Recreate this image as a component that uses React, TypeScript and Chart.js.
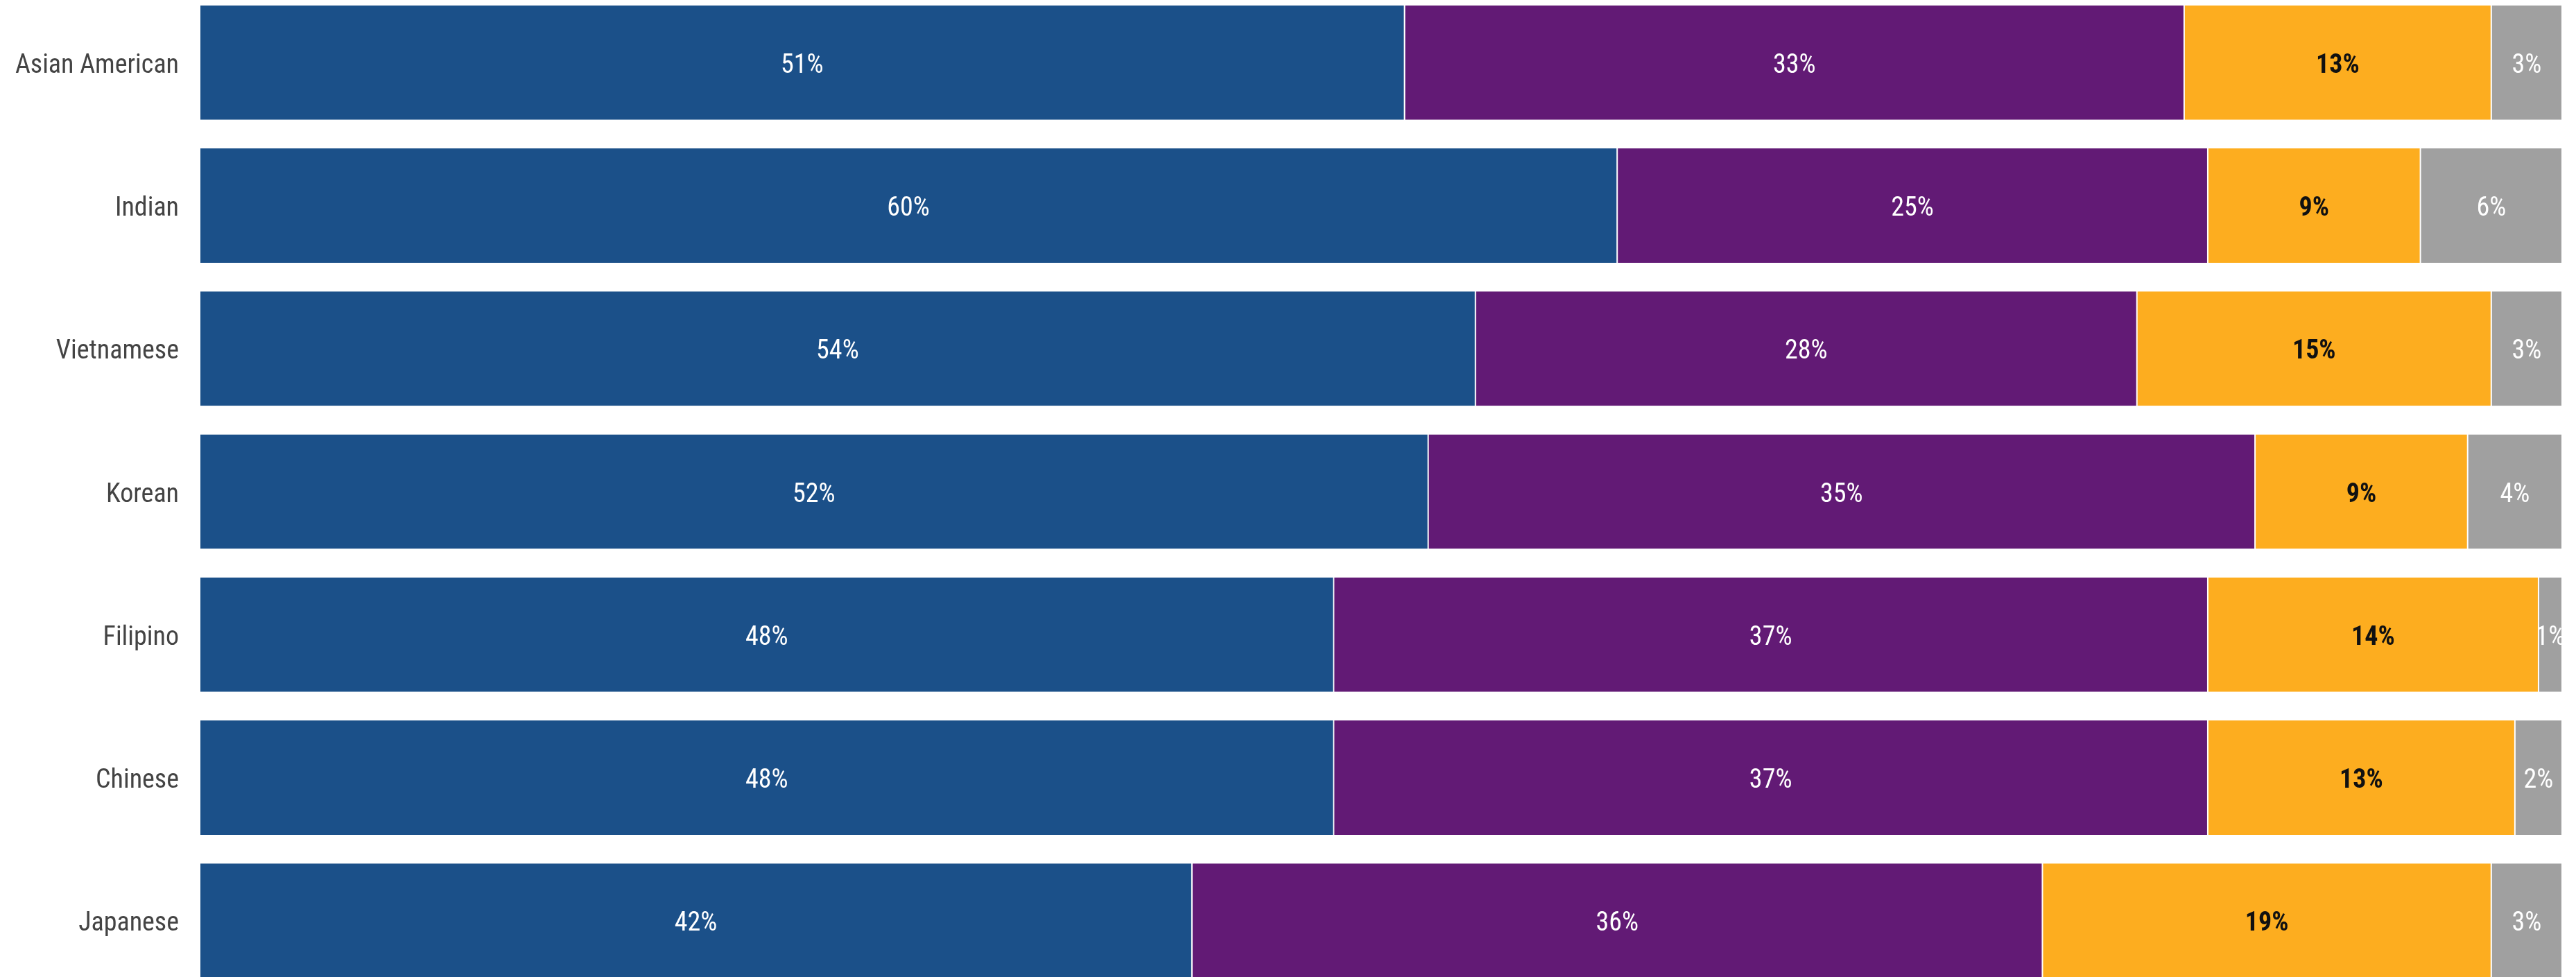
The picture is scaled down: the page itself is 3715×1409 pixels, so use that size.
import React, { useEffect, useRef } from "react";
import { Chart, registerables } from "chart.js";

Chart.register(...registerables);

const categories = ["Asian American", "Indian", "Vietnamese", "Korean", "Filipino", "Chinese", "Japanese"];
const seriesA = [51, 60, 54, 52, 48, 48, 42];
const seriesB = [33, 25, 28, 35, 37, 37, 36];
const seriesC = [13, 9, 15, 9, 14, 13, 19];
const seriesD = [3, 6, 3, 4, 1, 2, 3];
const seriesColors = ["#1B5089", "#621A75", "#FDAD1F", "#A0A0A0"];
const labelColors = ["#FFFFFF", "#FFFFFF", "#111111", "#FFFFFF"];
const labelWeights = ["normal", "normal", "bold", "normal"];

const FONT = '"Roboto Condensed", "Liberation Sans Narrow", "DejaVu Sans Condensed", Roboto, sans-serif';

const labelPlugin = {
  id: "segLabels",
  afterDatasetsDraw(chart: any) {
    const ctx = chart.ctx;
    chart.data.datasets.forEach((ds: any, di: number) => {
      const meta = chart.getDatasetMeta(di);
      meta.data.forEach((bar: any, i: number) => {
        const v = ds.data[i];
        const left = Math.min(bar.base, bar.x);
        const right = Math.max(bar.base, bar.x);
        const top = bar.y - bar.height / 2;
        ctx.save();
        ctx.beginPath();
        ctx.rect(left, top, right - left, bar.height);
        ctx.clip();
        ctx.fillStyle = labelColors[di];
        ctx.font = `${labelWeights[di]} 38px ${FONT}`;
        ctx.textAlign = "center";
        ctx.textBaseline = "middle";
        ctx.fillText(v + "%", (left + right) / 2, bar.y + 5);
        ctx.restore();
      });
    });
  },
};

export default function App() {
  const ref = useRef<HTMLCanvasElement>(null);
  useEffect(() => {
    document.body.style.margin = "0";
    const chart = new Chart(ref.current!, {
      type: "bar",
      data: {
        labels: categories,
        datasets: [seriesA, seriesB, seriesC, seriesD].map((d, i) => ({
          label: "s" + i,
          data: d,
          backgroundColor: seriesColors[i],
          borderColor: "#FFFFFF",
          borderWidth: { left: 1, right: 1, top: 0, bottom: 0 },
          borderSkipped: false,
          barPercentage: 0.8,
          categoryPercentage: 1,
        })),
      },
      options: {
        indexAxis: "y",
        animation: false,
        responsive: false,
        maintainAspectRatio: false,
        layout: { padding: { left: 0, right: 20, top: 0, bottom: 0 } },
        plugins: { legend: { display: false }, tooltip: { enabled: false } },
        scales: {
          x: { stacked: true, min: 0, max: 100, display: false },
          y: {
            stacked: true,
            grid: { display: false, drawTicks: false },
            border: { display: false },
            ticks: { color: "#444444", font: { size: 38, family: FONT }, padding: 30, labelOffset: 5 },
            afterFit: (scale: any) => {
              scale.width = 288;
              scale.paddingTop = 0;
              scale.paddingBottom = 0;
            },
          },
        },
      },
      plugins: [labelPlugin],
    });
    return () => chart.destroy();
  }, []);
  return (
    <div style={{ position: "fixed", left: 0, top: 0, width: 3715, height: 1409, overflow: "hidden", background: "#fff" }}>
      <canvas ref={ref} width={3715} height={1444} style={{ position: "absolute", left: 0, top: -13, width: 3715, height: 1444 }} />
    </div>
  );
}
